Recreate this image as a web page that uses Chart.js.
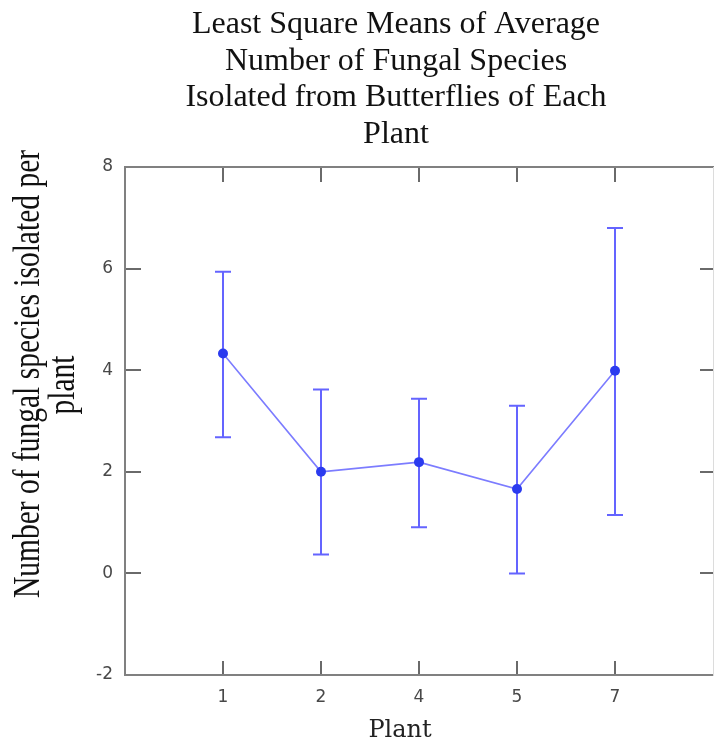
<!DOCTYPE html>
<html>
<head>
<meta charset="utf-8">
<script src="https://cdn.jsdelivr.net/npm/chart.js@4.4.0/dist/chart.umd.min.js"></script>
<style>
  html, body { margin: 0; padding: 0; background: #fff; }
  #wrap { width: 714px; height: 744px; position: relative; }
</style>
</head>
<body>
<div id="wrap"><canvas id="lsmChart"></canvas></div>
<script>
// Dados
const plants = ['1', '2', '4', '5', '7'];
const lsMeans = [4.33, 2.0, 2.19, 1.66, 3.99];
const lowerCI = [2.68, 0.37, 0.91, 0.0, 1.15];
const upperCI = [5.94, 3.62, 3.44, 3.30, 6.80];
const yTicks = [-2, 0, 2, 4, 6, 8];

const titleLines = ['Least Square Means of Average', 'Number of Fungal Species', 'Isolated from Butterflies of Each', 'Plant'];
const yTitleLines = ['Number of fungal species isolated per', 'plant'];
const xTitle = 'Plant';

const plantTicks = (scale) => { scale.ticks = plants.map((p, i) => ({ value: i + 1 })); };
const valueTicks = (scale) => { scale.ticks = yTicks.map(v => ({ value: v })); };

// barras de erro (desenhadas antes da linha/pontos)
const errorBars = {
    id: 'errorBars',
    beforeDatasetsDraw(chart) {
        const { ctx, scales: { x, y } } = chart;
        ctx.save();
        ctx.strokeStyle = '#6464ff';
        ctx.lineWidth = 2;
        plants.forEach((p, i) => {
            const px = x.getPixelForValue(i + 1);
            const top = y.getPixelForValue(upperCI[i]);
            const bot = y.getPixelForValue(lowerCI[i]);
            ctx.beginPath();
            ctx.moveTo(px, top); ctx.lineTo(px, bot);
            ctx.moveTo(px - 8, top); ctx.lineTo(px + 8, top);
            ctx.moveTo(px - 8, bot); ctx.lineTo(px + 8, bot);
            ctx.stroke();
        });
        ctx.restore();
    }
};

// títulos (posição livre, fora da área do gráfico)
const titles = {
    id: 'titles',
    afterDraw(chart) {
        const ctx = chart.ctx;
        ctx.save();
        ctx.fillStyle = '#111';
        ctx.textAlign = 'center';
        ctx.textBaseline = 'alphabetic';
        ctx.font = '32px "Liberation Serif", "Times New Roman", serif';
        titleLines.forEach((t, i) => ctx.fillText(t, 396, 33 + i * 36.5));

        // título do eixo Y (girado, um pouco esticado como no original)
        ctx.font = '29.5px "Liberation Serif", "Times New Roman", serif';
        const yCenters = [374, 385];
        const yBase = [39, 74];
        yTitleLines.forEach((t, i) => {
            ctx.save();
            ctx.translate(yBase[i], yCenters[i]);
            ctx.rotate(-Math.PI / 2);
            ctx.scale(1, 1.3);
            ctx.fillText(t, 0, 0);
            ctx.restore();
        });

        // título do eixo X
        ctx.fillStyle = '#222';
        ctx.font = '24px "DejaVu Serif", serif';
        ctx.fillText(xTitle, 400, 737);
        ctx.restore();
    }
};

const gridStyle = (len) => ({
    display: true,
    drawOnChartArea: false,
    drawTicks: true,
    tickLength: len,
    color: '#6a6a6a',
    lineWidth: 2
});

const ctx = document.getElementById('lsmChart');
new Chart(ctx, {
    type: 'line',
    data: {
        datasets: [{
            label: 'LS Means',
            data: lsMeans.map((m, i) => ({ x: i + 1, y: m })),
            borderColor: '#7c7cff',
            borderWidth: 1.6,
            pointRadius: 5,
            pointBackgroundColor: '#2b3bef',
            pointBorderWidth: 0,
            tension: 0,
            fill: false
        }]
    },
    options: {
        responsive: true,
        maintainAspectRatio: false,
        animation: false,
        layout: { autoPadding: false, padding: { top: 167, left: 0, right: 1, bottom: 0 } },
        plugins: {
            legend: { display: false },
            tooltip: { enabled: false },
            title: { display: false }
        },
        scales: {
            x: {
                type: 'linear',
                position: 'bottom',
                min: 0,
                max: plants.length + 1,
                afterBuildTicks: plantTicks,
                afterFit: (s) => { s.height = 69; },
                grid: gridStyle(-14),
                border: { display: true, color: '#808080', width: 2 },
                ticks: {
                    autoSkip: false,
                    padding: 28,
                    color: '#484848',
                    font: { family: '"DejaVu Sans", sans-serif', size: 17, lineHeight: 1 },
                    callback: (v) => plants[v - 1]
                }
            },
            x2: {
                type: 'linear',
                position: 'top',
                min: 0,
                max: plants.length + 1,
                afterBuildTicks: plantTicks,
                afterFit: (s) => { s.height = 0; },
                grid: gridStyle(-15),
                border: { display: true, color: '#808080', width: 2 },
                ticks: { display: false }
            },
            y: {
                position: 'left',
                min: -2,
                max: 8,
                afterBuildTicks: valueTicks,
                afterFit: (s) => { s.width = 125; },
                grid: gridStyle(-16),
                border: { display: true, color: '#808080', width: 2 },
                ticks: {
                    padding: 28,
                    color: '#484848',
                    font: { family: '"DejaVu Sans", sans-serif', size: 17, lineHeight: 1 }
                }
            },
            y2: {
                position: 'right',
                min: -2,
                max: 8,
                afterBuildTicks: valueTicks,
                afterFit: (s) => { s.width = 0; },
                grid: gridStyle(-13),
                border: { display: true, color: '#dcdcdc', width: 1 },
                ticks: { display: false }
            }
        }
    },
    plugins: [errorBars, titles]
});
</script>
</body>
</html>
